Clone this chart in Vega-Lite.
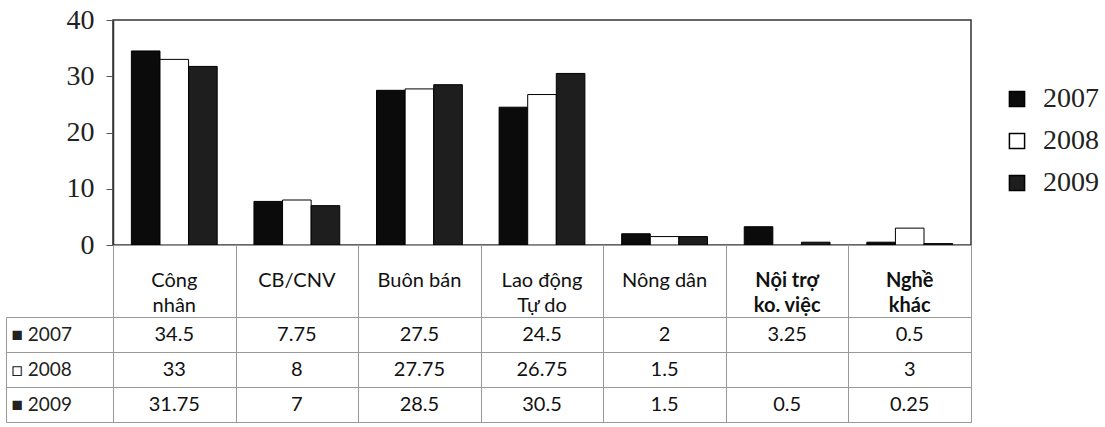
{
  "$schema": "https://vega.github.io/schema/vega-lite/v6.json",
  "padding": {"left": 5, "top": 5, "right": 5, "bottom": 0},
  "background": "white",
  "spacing": 0,
  "bounds": "flush",
  "config": {"font": "Lato"},
  "datasets": {
    "vals": [
      {"cat": "Công nhân", "year": "2007", "value": 34.5},
      {"cat": "Công nhân", "year": "2008", "value": 33},
      {"cat": "Công nhân", "year": "2009", "value": 31.75},
      {"cat": "CB/CNV", "year": "2007", "value": 7.75},
      {"cat": "CB/CNV", "year": "2008", "value": 8},
      {"cat": "CB/CNV", "year": "2009", "value": 7},
      {"cat": "Buôn bán", "year": "2007", "value": 27.5},
      {"cat": "Buôn bán", "year": "2008", "value": 27.75},
      {"cat": "Buôn bán", "year": "2009", "value": 28.5},
      {"cat": "Lao động Tự do", "year": "2007", "value": 24.5},
      {"cat": "Lao động Tự do", "year": "2008", "value": 26.75},
      {"cat": "Lao động Tự do", "year": "2009", "value": 30.5},
      {"cat": "Nông dân", "year": "2007", "value": 2},
      {"cat": "Nông dân", "year": "2008", "value": 1.5},
      {"cat": "Nông dân", "year": "2009", "value": 1.5},
      {"cat": "Nội trợ ko. việc", "year": "2007", "value": 3.25},
      {"cat": "Nội trợ ko. việc", "year": "2009", "value": 0.5},
      {"cat": "Nghề khác", "year": "2007", "value": 0.5},
      {"cat": "Nghề khác", "year": "2008", "value": 3},
      {"cat": "Nghề khác", "year": "2009", "value": 0.25}
    ],
    "heads": [
      {"cat": "Công nhân", "label": "Công\nnhân"},
      {"cat": "CB/CNV", "label": "CB/CNV"},
      {"cat": "Buôn bán", "label": "Buôn bán"},
      {"cat": "Lao động Tự do", "label": "Lao động\nTự do"},
      {"cat": "Nông dân", "label": "Nông dân"},
      {"cat": "Nội trợ ko. việc", "label": "Nội trợ\nko. việc"},
      {"cat": "Nghề khác", "label": "Nghề\nkhác"}
    ]
  },
  "vconcat": [
    {
      "width": 858,
      "height": 225,
      "data": {"name": "vals"},
      "view": {"stroke": "#333", "strokeWidth": 1.5},
      "mark": {"type": "bar", "stroke": "#000", "strokeWidth": 1},
      "encoding": {
        "x": {"field": "cat", "type": "nominal",
          "sort": ["Công nhân", "CB/CNV", "Buôn bán", "Lao động Tự do", "Nông dân", "Nội trợ ko. việc", "Nghề khác"],
          "scale": {"paddingInner": 0.3, "paddingOuter": 0.15}, "axis": null},
        "xOffset": {"field": "year", "type": "nominal", "scale": {"paddingInner": 0, "paddingOuter": 0}},
        "y": {"field": "value", "type": "quantitative", "scale": {"domain": [0, 40]},
          "axis": {"title": null, "grid": false, "values": [0, 10, 20, 30, 40],
            "labelFont": "Liberation Serif", "labelFontSize": 28, "labelColor": "#222",
            "tickSize": 7, "tickColor": "#555", "domainColor": "#333", "domainWidth": 1.5, "labelPadding": 12}},
        "fill": {"field": "year", "type": "nominal",
          "scale": {"domain": ["2007", "2008", "2009"], "range": ["#0b0b0b", "#ffffff", "#1e1e1e"]},
          "legend": {"title": null, "orient": "none", "legendX": 890, "legendY": 65,
            "symbolType": "square", "symbolSize": 230, "symbolStrokeColor": "#000", "symbolStrokeWidth": 1.5,
            "labelFont": "Liberation Serif", "labelFontSize": 28, "labelColor": "#222",
            "rowPadding": 14, "labelOffset": 12}}
      }
    },
    {
      "width": 858,
      "height": 72,
      "data": {"name": "heads"},
      "view": {"stroke": "#999"},
      "encoding": {
        "x": {"field": "cat", "type": "nominal",
          "sort": ["Công nhân", "CB/CNV", "Buôn bán", "Lao động Tự do", "Nông dân", "Nội trợ ko. việc", "Nghề khác"],
          "scale": {"paddingInner": 0, "paddingOuter": 0},
          "axis": {"title": null, "labels": false, "ticks": false, "domain": false, "grid": true, "tickBand": "extent", "gridColor": "#999", "orient": "top"}},
        "text": {"field": "label", "type": "nominal"}
      },
      "layer": [
        {"transform": [{"filter": "indexof(['Nội trợ ko. việc', 'Nghề khác'], datum.cat) < 0"}],
         "mark": {"type": "text", "lineBreak": "\n", "fontSize": 20, "color": "#111", "baseline": "middle", "lineHeight": 25}},
        {"transform": [{"filter": "indexof(['Nội trợ ko. việc', 'Nghề khác'], datum.cat) >= 0"}],
         "mark": {"type": "text", "lineBreak": "\n", "fontSize": 20, "fontWeight": "bold", "color": "#111", "baseline": "middle", "lineHeight": 25}}
      ]
    },
    {
      "width": 858,
      "height": 105,
      "data": {"name": "vals"},
      "view": {"stroke": "#999"},
      "encoding": {
        "x": {"field": "cat", "type": "nominal",
          "sort": ["Công nhân", "CB/CNV", "Buôn bán", "Lao động Tự do", "Nông dân", "Nội trợ ko. việc", "Nghề khác"],
          "scale": {"paddingInner": 0, "paddingOuter": 0},
          "axis": {"title": null, "labels": false, "ticks": false, "domain": false, "grid": true, "tickBand": "extent", "gridColor": "#999"}},
        "text": {"field": "value", "type": "quantitative"}
      },
      "resolve": {"axis": {"y": "independent"}},
      "layer": [
        {
          "mark": {"type": "text", "fontSize": 20, "color": "#111", "baseline": "middle"},
          "encoding": {
            "y": {"field": "year", "type": "nominal", "sort": ["2007", "2008", "2009"],
              "scale": {"paddingInner": 0, "paddingOuter": 0},
              "axis": {"title": null, "grid": true, "tickBand": "extent", "gridColor": "#999", "tickSize": 107, "tickColor": "#999",
                "domain": false, "labelAlign": "left", "labelPadding": -5, "labelFontSize": 19, "labelColor": "#222", "labelFont": "Lato",
                "labelExpr": "datum.value == '2008' ? '□ 2008' : (datum.value == '2007' || datum.value == '2009') ? '■ ' + datum.value : ''"}}
          }
        },
        {
          "mark": {"type": "text", "fontSize": 20, "opacity": 0, "baseline": "middle"},
          "encoding": {
            "y": {"field": "year", "type": "nominal", "sort": ["2007", "2008", "2009"],
              "axis": {"title": null, "grid": false, "labels": false, "ticks": false, "domain": true, "domainColor": "#999", "orient": "left", "offset": 107}}
          }
        }
      ]
    }
  ]
}
